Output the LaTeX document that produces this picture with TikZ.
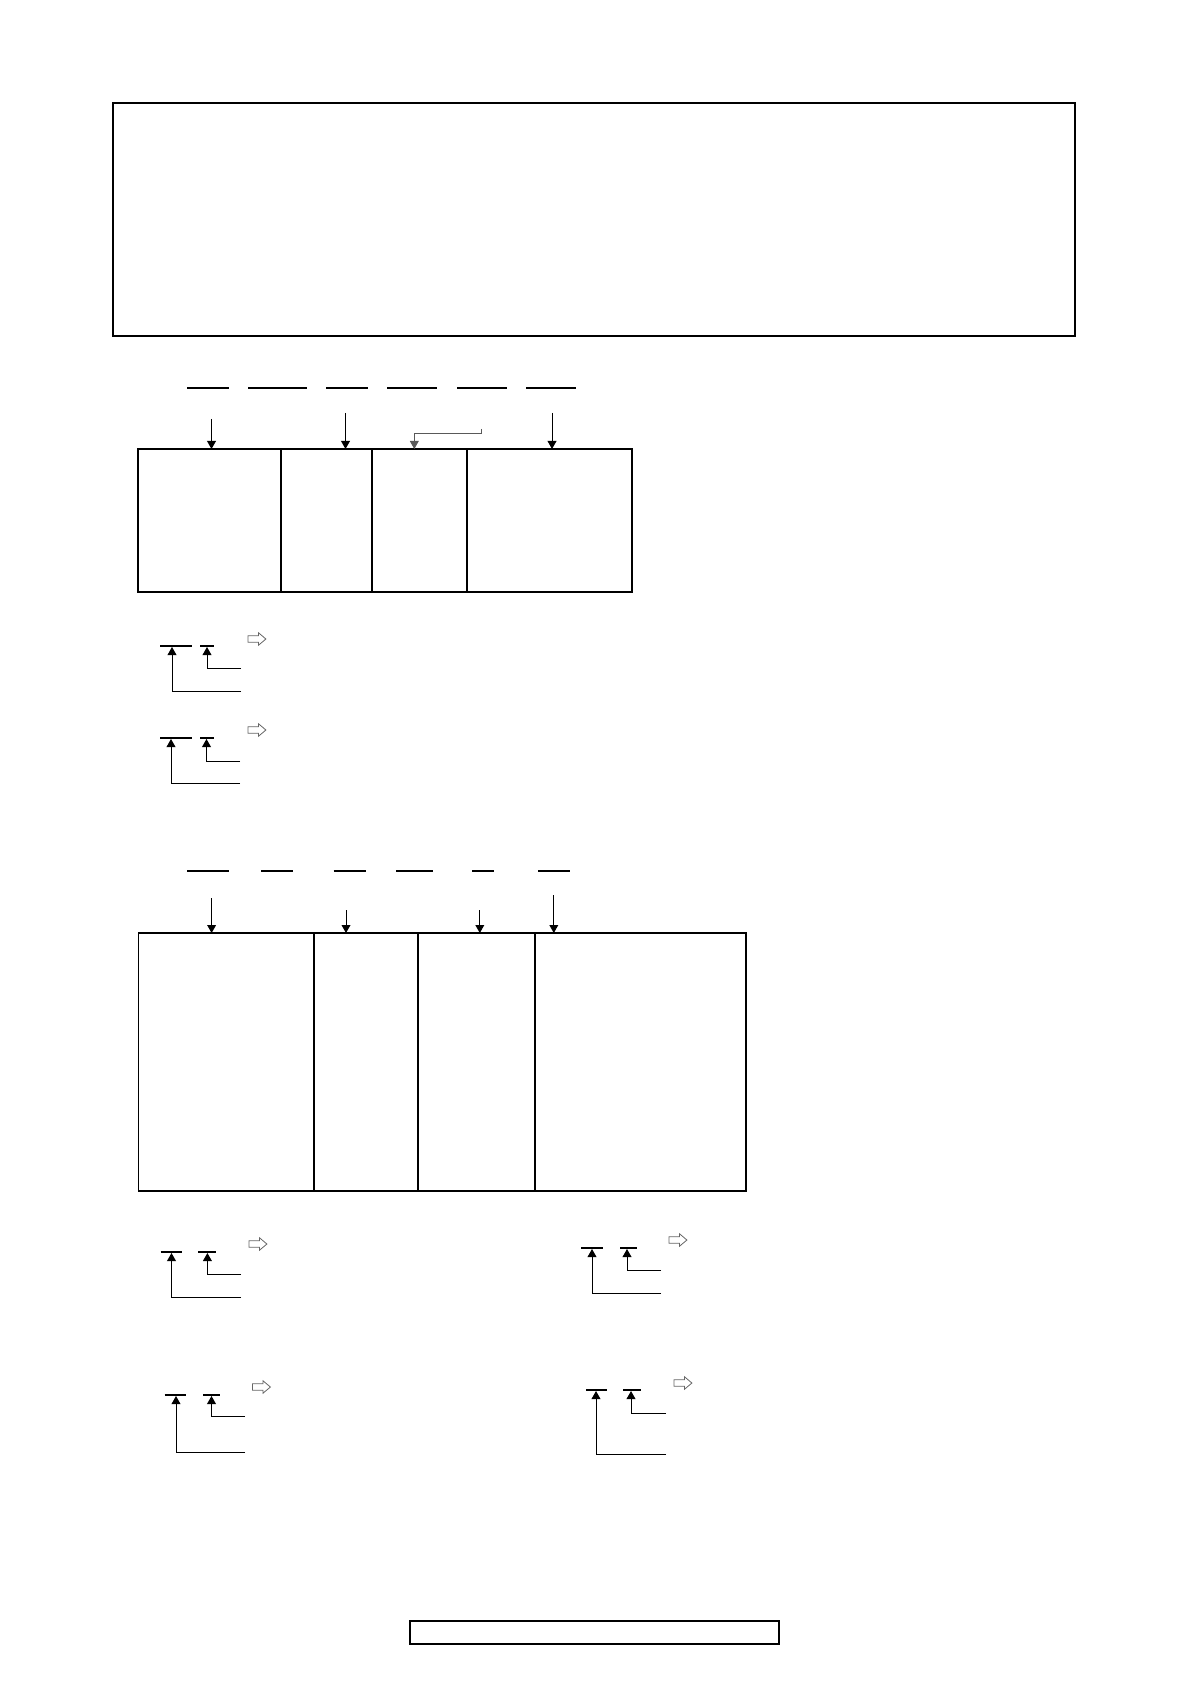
\documentclass[tikz,border=0pt]{standalone}
\usetikzlibrary{arrows.meta, positioning, shapes.arrows}

\begin{document}
\begin{tikzpicture}[x=0.5pt, y=-0.5pt,
	Frame/.style={draw, line width=1.1pt, rectangle, inner sep=0pt, outer sep=0pt, anchor=north west},
	Cell/.style={draw, line width=0.75pt, rectangle, inner sep=0pt, outer sep=0pt, anchor=north west},
	Field/.style={line width=0.9pt},
	Pointer/.style={line width=0.5pt, -{Triangle[length=4pt, width=4.4pt]}},
	Hint/.style={single arrow, draw=black!60, line width=0.4pt, minimum height=9pt, inner xsep=0pt, inner ysep=1.4pt, single arrow head extend=1.5pt, single arrow tip angle=80}]
\useasboundingbox (0,0) rectangle (1190,1684);
% heading frame
\node[Frame, minimum width=481pt, minimum height=116.5pt] (head) at (113,103) {};
% first record layout
\draw[Field] (187,388) -- (229,388) (248,388) -- (307,388) (326,388) -- (368,388) (387,388) -- (437,388) (457,388) -- (507,388) (526,388) -- (576,388);
\node[Cell, minimum width=71.5pt, minimum height=71.5pt] (c11) at (138,449) {};
\node[Cell, right=0pt of c11, minimum width=45.5pt, minimum height=71.5pt] (c12) {};
\node[Cell, right=0pt of c12, minimum width=47.5pt, minimum height=71.5pt] (c13) {};
\node[Cell, right=0pt of c13, minimum width=82.5pt, minimum height=71.5pt] (c14) {};
\path (211.5,419) coordinate (p11) (345.5,413) coordinate (p12) (481,429) coordinate (p13) (552,413) coordinate (p14);
\draw[Pointer] (p11) -- (p11 |- c11.north);
\draw[Pointer] (p12) -- (p12 |- c12.north);
\draw[Pointer, draw=black!65] (p13) -- ++(0,4.5) -| ([xshift=-2.6pt]c13.north);
\draw[Pointer] (p14) -- (p14 |- c14.north);
% keys of the first layout
\draw[Field] (160,646) -- (192,646) (200,646) -- (214,646);
\path (241,691) coordinate (la1) (241,668) coordinate (la2) (172,647) coordinate (fa1) (207,647) coordinate (fa2);
\draw[Pointer] (la1) -| (fa1);
\draw[Pointer] (la2) -| (fa2);
\node[Hint] (ha) at (255,639) {};
\draw[Field] (160,738) -- (192,738) (200,738) -- (214,738);
\path (240,783) coordinate (lb1) (240,761) coordinate (lb2) (171,739) coordinate (fb1) (206.5,739) coordinate (fb2);
\draw[Pointer] (lb1) -| (fb1);
\draw[Pointer] (lb2) -| (fb2);
\node[Hint] (hb) at (255,730) {};
% second record layout
\draw[Field] (187,871) -- (229,871) (261,871) -- (293,871) (333.5,871) -- (365.5,871) (396,871) -- (433,871) (472,871) -- (494,871) (538,871) -- (570,871);
\node[Cell, minimum width=87.75pt, minimum height=129pt] (c21) at (138.5,933) {};
\node[Cell, right=0pt of c21, minimum width=52pt, minimum height=129pt] (c22) {};
\node[Cell, right=0pt of c22, minimum width=58.5pt, minimum height=129pt] (c23) {};
\node[Cell, right=0pt of c23, minimum width=105.5pt, minimum height=129pt] (c24) {};
\path (211.6,898) coordinate (p21) (346,910) coordinate (p22) (479.8,910) coordinate (p23) (553.8,895) coordinate (p24);
\draw[Pointer] (p21) -- (p21 |- c21.north);
\draw[Pointer] (p22) -- (p22 |- c22.north);
\draw[Pointer] (p23) -- (p23 |- c23.north);
\draw[Pointer] (p24) -- (p24 |- c24.north);
% keys of the second layout
\draw[Field] (160.5,1252) -- (182,1252) (198,1252) -- (216,1252);
\path (241,1297) coordinate (lc1) (241,1274) coordinate (lc2) (171.5,1253) coordinate (fc1) (207.4,1253) coordinate (fc2);
\draw[Pointer] (lc1) -| (fc1);
\draw[Pointer] (lc2) -| (fc2);
\node[Hint] (hc) at (256,1244) {};
\draw[Field] (581,1248) -- (603,1248) (620,1248) -- (637,1248);
\path (661,1293) coordinate (ld1) (661,1270) coordinate (ld2) (592,1249) coordinate (fd1) (627,1249) coordinate (fd2);
\draw[Pointer] (ld1) -| (fd1);
\draw[Pointer] (ld2) -| (fd2);
\node[Hint] (hd) at (676,1240) {};
\draw[Field] (164.6,1395) -- (185.7,1395) (203,1395) -- (220,1395);
\path (245,1452) coordinate (le1) (245,1416) coordinate (le2) (176,1396) coordinate (fe1) (211.5,1396) coordinate (fe2);
\draw[Pointer] (le1) -| (fe1);
\draw[Pointer] (le2) -| (fe2);
\node[Hint] (he) at (259.5,1387) {};
\draw[Field] (586,1390) -- (607,1390) (623,1390) -- (641,1390);
\path (666,1454) coordinate (lf1) (666,1413) coordinate (lf2) (596,1391) coordinate (ff1) (631,1391) coordinate (ff2);
\draw[Pointer] (lf1) -| (ff1);
\draw[Pointer] (lf2) -| (ff2);
\node[Hint] (hf) at (681,1383) {};
% footer frame
\node[Frame, line width=0.8pt, minimum width=184.5pt, minimum height=11.5pt] (foot) at (410,1621) {};
\end{tikzpicture}
\end{document}
